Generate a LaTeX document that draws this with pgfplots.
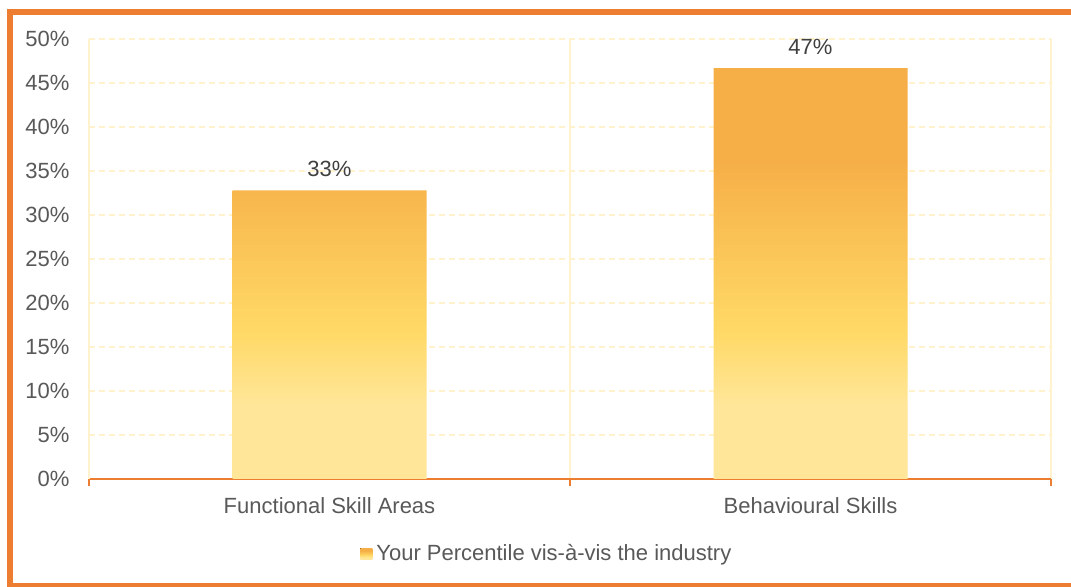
\documentclass[border=0pt]{standalone}
\usepackage{fontspec}
\setmainfont{Liberation Sans}
\usepackage{pgfplots}
\pgfplotsset{compat=1.18}
\definecolor{borderorange}{HTML}{ED7D31}
\definecolor{gridyellow}{HTML}{FFF2CC}
\definecolor{barorange}{HTML}{F6AE47}
\definecolor{baryellow}{HTML}{FFD966}
\definecolor{barlight}{HTML}{FFE699}
\definecolor{ticktext}{HTML}{595959}
\definecolor{labeltext}{HTML}{404040}
\pgfdeclareverticalshading{barshade}{100bp}{color(0bp)=(barlight); color(34bp)=(barlight); color(43bp)=(baryellow); color(64bp)=(barorange); color(100bp)=(barorange)}
\begin{document}
\begin{tikzpicture}[x=0.5pt,y=0.5pt]
\clip (0,0) rectangle (1071,587);
\fill[white] (0,0) rectangle (1071,587);
\draw[borderorange, line width=3pt] (10,1) rectangle (1075,575);
\begin{axis}[
  at={(44.5pt,54pt)}, anchor=south west,
  width=481pt, height=220pt, scale only axis,
  /pgf/number format/assume math mode=true,
  ymin=0, ymax=50, xmin=-0.5, xmax=1.5,
  ybar, bar width=97pt,
  xtick={0,1},
  xticklabels={Functional Skill Areas, Behavioural Skills},
  minor xtick={-0.5,0.5,1.5},
  ytick={0,5,...,50},
  yticklabel={\pgfmathprintnumber{\tick}\%},
  axis x line*=bottom, axis y line*=left,
  x axis line style={draw=borderorange, line width=1pt},
  y axis line style={draw=gridyellow, line width=1pt},
  ymajorgrids,
  major y grid style={draw=gridyellow, dash pattern=on 3pt off 2pt, line width=0.8pt},
  xminorgrids,
  minor x grid style={draw=gridyellow, line width=0.8pt},
  tick align=outside,
  major tick length=0pt,
  minor tick length=3.5pt,
  major x tick style={draw=none},
  minor x tick style={draw=borderorange, line width=1pt},
  y tick style={draw=none},
  tick label style={font=\fontsize{11}{13}\selectfont, text=ticktext},
  yticklabel style={xshift=-6.3pt},
  xticklabel style={yshift=-5.8pt},
  nodes near coords={\pgfmathprintnumber[fixed,precision=0,assume math mode=true]{\pgfplotspointmeta}\%},
  nodes near coords style={font=\fontsize{11}{13}\selectfont, text=labeltext, yshift=3.3pt},
  legend style={at={(0.477,-0.17)}, anchor=center, draw=none, fill=none,
    font=\fontsize{11}{13}\selectfont, text=ticktext},
  legend image code/.code={\fill[shading=barshade] (0pt,-2.75pt) rectangle (6pt,2.75pt);},
]
\addplot[draw=none, shading=barshade] coordinates {(0,32.8) (1,46.7)};
\legend{Your Percentile vis-à-vis the industry}
\end{axis}
\end{tikzpicture}
\end{document}
